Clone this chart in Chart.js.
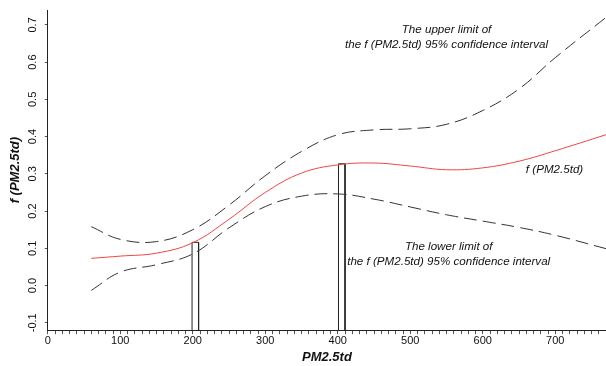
<!DOCTYPE html>
<html>
<head>
<meta charset="utf-8">
<script src="https://cdn.jsdelivr.net/npm/chart.js@4/dist/chart.umd.min.js"></script>
<style>
  html, body { margin: 0; padding: 0; background: #fff; }
  #wrap { width: 606px; height: 366px; position: relative; }
</style>
</head>
<body>
<div id="wrap"><canvas id="chart"></canvas></div>
<script>
// PM2.5td values where the curves were read
const pm = [60, 100, 150, 200, 250, 300, 350, 400, 450, 500, 550, 600, 650, 700, 770];
// smooth function f(PM2.5td)
const fValues = [0.073, 0.079, 0.087, 0.115, 0.178, 0.250, 0.302, 0.324, 0.329, 0.321, 0.311, 0.316, 0.334, 0.362, 0.405];
// 95% confidence limits
const upperValues = [0.158, 0.124, 0.118, 0.150, 0.216, 0.295, 0.360, 0.405, 0.418, 0.421, 0.433, 0.470, 0.528, 0.612, 0.720];
const lowerValues = [-0.013, 0.036, 0.056, 0.085, 0.155, 0.212, 0.240, 0.246, 0.232, 0.211, 0.190, 0.173, 0.156, 0.135, 0.099];

// the two narrow marker boxes
const boxStart = [199, 401];
const boxEnd = [208, 410];
const boxTop = [0.116, 0.327];

// axis ticks
const xTicks = [0, 100, 200, 300, 400, 500, 600, 700];
const yTicks = [-0.1, 0.0, 0.1, 0.2, 0.3, 0.4, 0.5, 0.6, 0.7];

const X_MIN = 0, X_MAX = 770;
const Y_MIN = -0.12, Y_MAX = 0.74;

// text notes on the plot (data coords)
const notes = [
    { x: 550, y: 0.688, lines: ["The upper limit of", "the f (PM2.5td) 95% confidence interval"] },
    { x: 553, y: 0.105, lines: ["The lower limit of", "the f (PM2.5td) 95% confidence interval"] },
    { x: 699, y: 0.310, lines: ["f (PM2.5td)"] }
];

const zip = (xs, ys) => xs.map((x, i) => ({ x: x, y: ys[i] }));

const dashStyle = {
    borderColor: "#333333",
    borderWidth: 1,
    borderDash: [13, 6],
    pointRadius: 0,
    tension: 0.4,
    fill: false
};

const datasets = [
    {
        label: "upper",
        data: zip(pm, upperValues),
        ...dashStyle
    },
    {
        label: "lower",
        data: zip(pm, lowerValues),
        ...dashStyle
    },
    {
        label: "f",
        data: zip(pm, fValues),
        borderColor: "#f24444",
        borderWidth: 1,
        pointRadius: 0,
        tension: 0.4,
        fill: false
    }
];

boxStart.forEach((x0, i) => {
    datasets.push({
        label: "box" + i,
        data: [
            { x: x0, y: Y_MIN },
            { x: x0, y: boxTop[i] },
            { x: boxEnd[i], y: boxTop[i] },
            { x: boxEnd[i], y: Y_MIN }
        ],
        borderColor: "#222222",
        borderWidth: 1,
        pointRadius: 0,
        tension: 0,
        fill: false
    });
});

const notesPlugin = {
    id: "notes",
    afterDatasetsDraw(chart) {
        const c = chart.ctx;
        const xs = chart.scales.x, ys = chart.scales.y;
        c.save();
        c.fillStyle = "#111";
        c.font = "italic 11.6px 'Liberation Sans', Arial, sans-serif";
        c.textAlign = "center";
        c.textBaseline = "middle";
        notes.forEach(n => {
            const px = xs.getPixelForValue(n.x);
            const py = ys.getPixelForValue(n.y);
            n.lines.forEach((t, k) => c.fillText(t, px, py + k * 15));
        });
        c.restore();
    }
};

new Chart(document.getElementById("chart"), {
    type: "line",
    data: { datasets: datasets },
    plugins: [notesPlugin],
    options: {
        responsive: true,
        maintainAspectRatio: false,
        animation: false,
        layout: {
            padding: { left: 8, right: 0, top: 10, bottom: 0 }
        },
        plugins: {
            legend: { display: false },
            tooltip: { enabled: false }
        },
        scales: {
            x: {
                type: "linear",
                min: X_MIN,
                max: X_MAX,
                afterBuildTicks: scale => {
                    const t = [];
                    for (let v = X_MIN; v <= X_MAX; v += 10) t.push({ value: v });
                    scale.ticks = t;
                },
                grid: {
                    drawOnChartArea: false,
                    drawTicks: true,
                    tickLength: 4,
                    tickColor: "#555"
                },
                border: { display: true, color: "#222", width: 1 },
                ticks: {
                    autoSkip: false,
                    maxRotation: 0,
                    color: "#111",
                    font: { family: "'Liberation Sans', Arial, sans-serif", size: 11 },
                    padding: 0,
                    callback: v => xTicks.includes(v) ? String(v) : ""
                },
                title: {
                    display: true,
                    text: "PM2.5td",
                    color: "#111",
                    font: { family: "'Liberation Sans', Arial, sans-serif", size: 13, style: "italic", weight: "bold" },
                    padding: { top: 2, bottom: 1 }
                }
            },
            y: {
                min: Y_MIN,
                max: Y_MAX,
                afterBuildTicks: scale => {
                    scale.ticks = yTicks.map(v => ({ value: v }));
                },
                grid: {
                    drawOnChartArea: false,
                    drawTicks: true,
                    tickLength: 3,
                    tickColor: "#555"
                },
                border: { display: true, color: "#222", width: 1 },
                ticks: {
                    minRotation: 90,
                    maxRotation: 90,
                    crossAlign: "center",
                    color: "#111",
                    padding: 2,
                    font: { family: "'Liberation Sans', Arial, sans-serif", size: 11 },
                    callback: v => v.toFixed(1)
                },
                title: {
                    display: true,
                    text: "f (PM2.5td)",
                    color: "#111",
                    font: { family: "'Liberation Sans', Arial, sans-serif", size: 13, style: "italic", weight: "bold" },
                    padding: { top: 0, bottom: 4 }
                }
            }
        }
    }
});
</script>
</body>
</html>
